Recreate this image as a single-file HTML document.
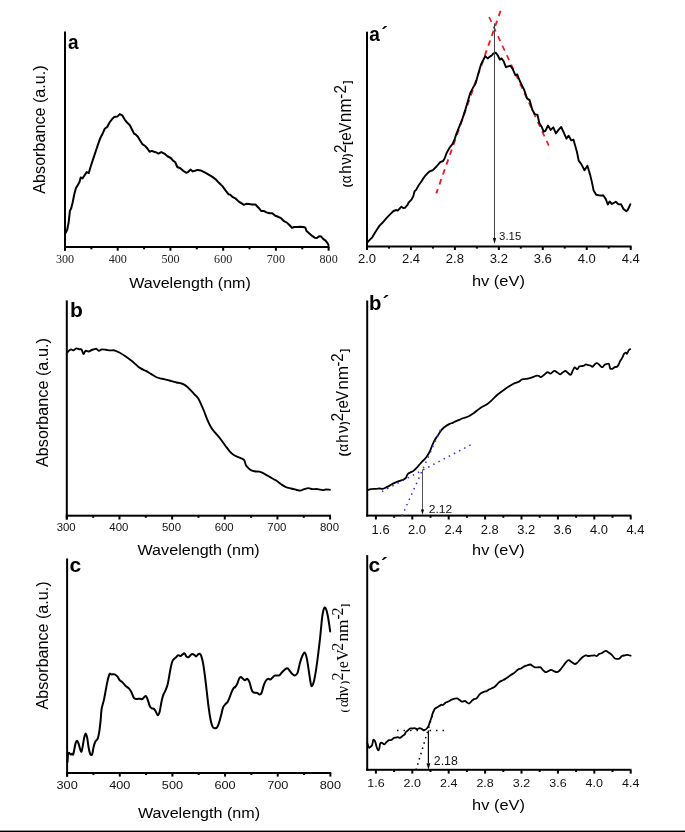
<!DOCTYPE html>
<html><head><meta charset="utf-8"><style>
html,body{margin:0;padding:0;background:#fff;}
body{width:685px;height:832px;overflow:hidden;}
svg{display:block;}
</style></head><body>
<svg width="685" height="832" viewBox="0 0 685 832">
<rect width="685" height="832" fill="#fff"/>
<rect x="64.00" y="31.50" width="2.00" height="219.20" fill="#000"/>
<rect x="64.00" y="246.00" width="265.50" height="2.00" fill="#000"/>
<rect x="64.00" y="247.00" width="2.00" height="3.70" fill="#000"/>
<rect x="116.72" y="247.00" width="2.00" height="3.70" fill="#000"/>
<rect x="169.44" y="247.00" width="2.00" height="3.70" fill="#000"/>
<rect x="222.16" y="247.00" width="2.00" height="3.70" fill="#000"/>
<rect x="274.88" y="247.00" width="2.00" height="3.70" fill="#000"/>
<rect x="327.60" y="247.00" width="2.00" height="3.70" fill="#000"/>
<rect x="90.36" y="247.00" width="2.00" height="2.30" fill="#000"/>
<rect x="143.08" y="247.00" width="2.00" height="2.30" fill="#000"/>
<rect x="195.80" y="247.00" width="2.00" height="2.30" fill="#000"/>
<rect x="248.52" y="247.00" width="2.00" height="2.30" fill="#000"/>
<rect x="301.24" y="247.00" width="2.00" height="2.30" fill="#000"/>
<polyline points="65.4,233.4 67.2,229.8 68.6,222.6 69.9,210.9 71.2,208.2 72.6,202.8 74.4,193.7 75.9,188.3 78.0,184.7 79.5,182.0 80.7,177.5 82.5,178.4 84.3,175.7 86.7,172.1 88.8,173.0 90.6,166.7 92.1,162.2 94.2,155.9 96.0,150.5 97.8,145.1 100.0,138.8 102.3,134.3 104.7,128.8 107.2,127.0 109.5,122.5 112.3,118.9 114.0,117.1 117.3,116.6 119.8,114.1 122.2,115.3 124.9,119.8 127.6,123.1 129.9,125.2 132.1,129.7 134.2,133.9 135.0,133.9 137.9,136.8 140.1,140.4 142.3,144.1 145.2,146.0 147.4,148.5 149.6,151.8 151.8,150.9 154.0,151.8 156.2,152.4 158.4,153.6 161.3,152.1 164.9,153.9 167.8,156.5 170.8,158.0 173.0,160.6 175.1,162.0 177.3,167.0 180.3,168.2 183.2,170.8 186.1,172.8 188.3,171.8 190.5,169.6 192.7,171.4 194.9,170.8 197.8,169.9 200.7,170.4 203.6,171.8 206.5,173.3 209.5,175.2 212.4,176.9 216.0,179.6 218.9,182.8 222.6,186.4 225.5,190.4 228.4,194.2 230.0,194.6 232.9,197.2 235.8,198.7 238.8,201.6 241.7,203.4 243.9,204.8 246.1,203.8 249.0,204.1 251.9,204.5 255.5,204.5 258.5,207.7 261.4,211.1 263.6,210.9 266.5,212.4 269.4,213.3 272.3,213.3 275.3,215.8 278.2,216.8 281.1,218.2 284.0,221.2 286.9,222.6 289.9,225.5 292.0,227.9 294.2,227.0 297.2,227.0 300.1,226.7 303.0,227.0 305.2,227.4 306.6,231.1 309.6,233.7 312.5,236.2 314.7,237.7 316.9,238.1 319.1,236.2 321.2,236.6 323.4,239.1 325.6,240.6 327.5,243.1 328.5,245.0" fill="none" stroke="#000" stroke-width="2.0" stroke-linejoin="round" stroke-linecap="round" />
<rect x="65.80" y="300.40" width="2.00" height="219.10" fill="#000"/>
<rect x="65.80" y="514.70" width="265.20" height="2.00" fill="#000"/>
<rect x="65.80" y="515.70" width="2.00" height="3.80" fill="#000"/>
<rect x="118.46" y="515.70" width="2.00" height="3.80" fill="#000"/>
<rect x="171.12" y="515.70" width="2.00" height="3.80" fill="#000"/>
<rect x="223.78" y="515.70" width="2.00" height="3.80" fill="#000"/>
<rect x="276.44" y="515.70" width="2.00" height="3.80" fill="#000"/>
<rect x="329.10" y="515.70" width="2.00" height="3.80" fill="#000"/>
<rect x="92.13" y="515.70" width="2.00" height="2.10" fill="#000"/>
<rect x="144.79" y="515.70" width="2.00" height="2.10" fill="#000"/>
<rect x="197.45" y="515.70" width="2.00" height="2.10" fill="#000"/>
<rect x="250.11" y="515.70" width="2.00" height="2.10" fill="#000"/>
<rect x="302.77" y="515.70" width="2.00" height="2.10" fill="#000"/>
<path d="M67.20,352.50 C67.53,352.15 68.53,350.92 69.20,350.40 C69.87,349.88 70.52,349.40 71.20,349.40 C71.88,349.40 72.43,350.57 73.30,350.40 C74.17,350.23 75.38,348.57 76.40,348.40 C77.42,348.23 78.55,349.23 79.40,349.40 C80.25,349.57 80.82,348.62 81.50,349.40 C82.18,350.18 82.83,353.87 83.50,354.10 C84.17,354.33 84.65,351.23 85.50,350.80 C86.35,350.37 87.57,351.63 88.60,351.50 C89.63,351.37 90.85,350.35 91.70,350.00 C92.55,349.65 92.92,349.60 93.70,349.40 C94.48,349.20 95.55,348.57 96.40,348.80 C97.25,349.03 97.88,350.70 98.80,350.80 C99.72,350.90 100.70,349.57 101.90,349.40 C103.10,349.23 104.63,349.63 106.00,349.80 C107.37,349.97 108.73,350.30 110.10,350.40 C111.47,350.50 112.67,350.05 114.20,350.40 C115.73,350.75 117.43,351.53 119.30,352.50 C121.17,353.47 123.37,354.83 125.40,356.20 C127.43,357.57 129.63,359.20 131.50,360.70 C133.37,362.20 135.07,363.92 136.60,365.20 C138.13,366.48 139.17,367.45 140.70,368.40 C142.23,369.35 144.10,369.98 145.80,370.90 C147.50,371.82 149.18,372.88 150.90,373.90 C152.62,374.92 154.57,376.25 156.10,377.00 C157.63,377.75 158.75,378.05 160.10,378.40 C161.45,378.75 162.67,378.75 164.20,379.10 C165.73,379.45 167.77,380.07 169.30,380.50 C170.83,380.93 172.20,381.37 173.40,381.70 C174.60,382.03 175.13,382.20 176.50,382.50 C177.87,382.80 180.07,382.98 181.60,383.50 C183.13,384.02 184.33,384.63 185.70,385.60 C187.07,386.57 188.43,387.93 189.80,389.30 C191.17,390.67 192.52,392.32 193.90,393.80 C195.28,395.28 196.90,396.45 198.10,398.20 C199.30,399.95 200.08,402.08 201.10,404.30 C202.12,406.52 203.17,408.95 204.20,411.50 C205.23,414.05 206.12,416.88 207.30,419.60 C208.48,422.32 209.95,425.58 211.30,427.80 C212.65,430.02 213.87,431.03 215.40,432.90 C216.93,434.77 218.78,436.78 220.50,439.00 C222.22,441.22 224.17,444.15 225.70,446.20 C227.23,448.25 228.35,449.83 229.70,451.30 C231.05,452.77 232.27,453.98 233.80,455.00 C235.33,456.02 237.20,456.58 238.90,457.40 C240.60,458.22 242.80,458.53 244.00,459.90 C245.20,461.27 245.07,463.97 246.10,465.60 C247.13,467.23 248.83,468.75 250.20,469.70 C251.57,470.65 252.77,470.97 254.30,471.30 C255.83,471.63 257.70,471.28 259.40,471.70 C261.10,472.12 262.80,472.93 264.50,473.80 C266.20,474.67 267.73,475.82 269.60,476.90 C271.47,477.98 273.83,479.12 275.70,480.30 C277.57,481.48 279.10,482.87 280.80,484.00 C282.50,485.13 284.18,486.35 285.90,487.10 C287.62,487.85 289.38,488.07 291.10,488.50 C292.82,488.93 294.67,489.35 296.20,489.70 C297.73,490.05 298.95,490.70 300.30,490.60 C301.65,490.50 302.95,489.52 304.30,489.10 C305.65,488.68 307.03,488.10 308.40,488.10 C309.77,488.10 310.97,488.93 312.50,489.10 C314.03,489.27 315.90,488.93 317.60,489.10 C319.30,489.27 321.33,490.03 322.70,490.10 C324.07,490.17 324.60,489.57 325.80,489.50 C327.00,489.43 329.22,489.67 329.90,489.70" fill="none" stroke="#000" stroke-width="1.9" stroke-linejoin="round" stroke-linecap="round"/>
<rect x="66.10" y="558.50" width="2.00" height="218.10" fill="#000"/>
<rect x="66.10" y="772.00" width="265.10" height="2.00" fill="#000"/>
<rect x="66.10" y="773.00" width="2.00" height="3.60" fill="#000"/>
<rect x="118.76" y="773.00" width="2.00" height="3.60" fill="#000"/>
<rect x="171.42" y="773.00" width="2.00" height="3.60" fill="#000"/>
<rect x="224.08" y="773.00" width="2.00" height="3.60" fill="#000"/>
<rect x="276.74" y="773.00" width="2.00" height="3.60" fill="#000"/>
<rect x="329.40" y="773.00" width="2.00" height="3.60" fill="#000"/>
<rect x="92.43" y="773.00" width="2.00" height="2.00" fill="#000"/>
<rect x="145.09" y="773.00" width="2.00" height="2.00" fill="#000"/>
<rect x="197.75" y="773.00" width="2.00" height="2.00" fill="#000"/>
<rect x="250.41" y="773.00" width="2.00" height="2.00" fill="#000"/>
<rect x="303.07" y="773.00" width="2.00" height="2.00" fill="#000"/>
<path d="M67.50,762.00 C67.60,760.63 67.82,755.30 68.10,753.80 C68.38,752.30 68.78,752.88 69.20,753.00 C69.62,753.12 70.12,754.37 70.60,754.50 C71.08,754.63 71.67,753.80 72.10,753.80 C72.53,753.80 72.83,755.23 73.20,754.50 C73.57,753.77 73.88,751.33 74.30,749.40 C74.72,747.47 75.23,744.33 75.70,742.90 C76.17,741.47 76.62,740.67 77.10,740.80 C77.58,740.93 78.12,742.38 78.60,743.70 C79.08,745.02 79.52,747.38 80.00,748.70 C80.48,750.02 81.02,752.20 81.50,751.60 C81.98,751.00 82.43,747.50 82.90,745.10 C83.37,742.70 83.82,739.12 84.30,737.20 C84.78,735.28 85.32,733.48 85.80,733.60 C86.28,733.72 86.72,735.50 87.20,737.90 C87.68,740.30 88.15,745.23 88.70,748.00 C89.25,750.77 89.90,753.53 90.50,754.50 C91.10,755.47 91.77,755.13 92.30,753.80 C92.83,752.47 93.18,748.55 93.70,746.50 C94.22,744.45 94.73,742.82 95.40,741.50 C96.07,740.18 97.07,740.17 97.70,738.60 C98.33,737.03 98.72,735.10 99.20,732.10 C99.68,729.10 100.20,724.45 100.60,720.60 C101.00,716.75 101.07,712.37 101.60,709.00 C102.13,705.63 103.20,703.03 103.80,700.40 C104.40,697.77 104.60,696.33 105.20,693.20 C105.80,690.07 106.67,684.78 107.40,681.60 C108.13,678.42 108.88,675.30 109.60,674.10 C110.32,672.90 110.87,674.35 111.70,674.40 C112.53,674.45 113.63,674.03 114.60,674.40 C115.57,674.77 116.65,675.63 117.50,676.60 C118.35,677.57 118.87,679.23 119.70,680.20 C120.53,681.17 121.55,681.48 122.50,682.40 C123.45,683.32 124.38,684.75 125.40,685.70 C126.42,686.65 127.63,687.10 128.60,688.10 C129.57,689.10 130.28,690.02 131.20,691.70 C132.12,693.38 133.13,697.00 134.10,698.20 C135.07,699.40 136.02,698.82 137.00,698.90 C137.98,698.98 139.13,698.67 140.00,698.70 C140.87,698.73 141.52,699.35 142.20,699.10 C142.88,698.85 143.45,697.68 144.10,697.20 C144.75,696.72 145.45,695.63 146.10,696.20 C146.75,696.77 147.37,698.90 148.00,700.60 C148.63,702.30 149.28,705.12 149.90,706.40 C150.52,707.68 151.03,707.88 151.70,708.30 C152.37,708.72 153.22,708.37 153.90,708.90 C154.58,709.43 155.15,710.45 155.80,711.50 C156.45,712.55 157.15,715.20 157.80,715.20 C158.45,715.20 159.07,713.82 159.70,711.50 C160.33,709.18 160.98,704.10 161.60,701.30 C162.22,698.50 162.75,696.52 163.40,694.70 C164.05,692.88 164.83,691.97 165.50,690.40 C166.17,688.83 166.83,687.37 167.40,685.30 C167.97,683.23 168.35,680.93 168.90,678.00 C169.45,675.07 170.05,670.63 170.70,667.70 C171.35,664.77 171.95,662.10 172.80,660.40 C173.65,658.70 174.90,658.35 175.80,657.50 C176.70,656.65 177.40,655.53 178.20,655.30 C179.00,655.07 179.92,656.22 180.60,656.10 C181.28,655.98 181.65,655.05 182.30,654.60 C182.95,654.15 183.82,653.10 184.50,653.40 C185.18,653.70 185.73,655.77 186.40,656.40 C187.07,657.03 187.83,657.38 188.50,657.20 C189.17,657.02 189.77,655.85 190.40,655.30 C191.03,654.75 191.65,653.97 192.30,653.90 C192.95,653.83 193.65,654.48 194.30,654.90 C194.95,655.32 195.57,656.50 196.20,656.40 C196.83,656.30 197.48,654.72 198.10,654.30 C198.72,653.88 199.37,653.60 199.90,653.90 C200.43,654.20 200.77,654.52 201.30,656.10 C201.83,657.68 202.48,660.00 203.10,663.40 C203.72,666.80 204.37,671.63 205.00,676.50 C205.63,681.37 206.30,687.48 206.90,692.60 C207.50,697.72 208.02,702.83 208.60,707.20 C209.18,711.57 209.78,715.65 210.40,718.80 C211.02,721.95 211.58,724.52 212.30,726.10 C213.02,727.68 213.85,728.17 214.70,728.30 C215.55,728.43 216.58,728.12 217.40,726.90 C218.22,725.68 218.92,723.20 219.60,721.00 C220.28,718.80 220.90,716.00 221.50,713.70 C222.10,711.40 222.55,708.78 223.20,707.20 C223.85,705.62 224.67,705.07 225.40,704.20 C226.13,703.33 226.87,703.22 227.60,702.00 C228.33,700.78 229.07,698.72 229.80,696.90 C230.53,695.08 231.27,692.68 232.00,691.10 C232.73,689.52 233.70,688.03 234.20,687.40 C234.70,686.77 234.50,687.88 235.00,687.30 C235.50,686.72 236.52,685.32 237.20,683.90 C237.88,682.48 238.50,679.93 239.10,678.80 C239.70,677.67 240.15,677.10 240.80,677.10 C241.45,677.10 242.32,678.27 243.00,678.80 C243.68,679.33 244.17,680.30 244.90,680.30 C245.63,680.30 246.62,678.43 247.40,678.80 C248.18,679.17 248.93,680.78 249.60,682.50 C250.27,684.22 250.80,687.47 251.40,689.10 C252.00,690.73 252.53,691.70 253.20,692.30 C253.87,692.90 254.67,692.57 255.40,692.70 C256.13,692.83 256.92,692.78 257.60,693.10 C258.28,693.42 258.83,694.67 259.50,694.60 C260.17,694.53 260.93,694.12 261.60,692.70 C262.27,691.28 262.82,688.05 263.50,686.10 C264.18,684.15 264.90,682.22 265.70,681.00 C266.50,679.78 267.53,679.03 268.30,678.80 C269.07,678.57 269.57,679.83 270.30,679.60 C271.03,679.37 271.97,678.07 272.70,677.40 C273.43,676.73 273.93,675.90 274.70,675.60 C275.47,675.30 276.50,675.67 277.30,675.60 C278.10,675.53 278.72,675.75 279.50,675.20 C280.28,674.65 281.15,673.20 282.00,672.30 C282.85,671.40 283.72,670.47 284.60,669.80 C285.48,669.13 286.45,668.13 287.30,668.30 C288.15,668.47 288.88,669.85 289.70,670.80 C290.52,671.75 291.33,673.22 292.20,674.00 C293.07,674.78 294.02,675.67 294.90,675.50 C295.78,675.33 296.65,675.12 297.50,673.00 C298.35,670.88 299.22,665.60 300.00,662.80 C300.78,660.00 301.40,657.90 302.20,656.20 C303.00,654.50 304.03,652.23 304.80,652.60 C305.57,652.97 306.15,655.48 306.80,658.40 C307.45,661.32 308.13,666.45 308.70,670.10 C309.27,673.75 309.72,677.63 310.20,680.30 C310.68,682.97 311.00,685.85 311.60,686.10 C312.20,686.35 313.07,684.47 313.80,681.80 C314.53,679.13 315.27,674.73 316.00,670.10 C316.73,665.47 317.47,659.85 318.20,654.00 C318.93,648.15 319.72,641.32 320.40,635.00 C321.08,628.68 321.65,620.60 322.30,616.10 C322.95,611.60 323.65,609.10 324.30,608.00 C324.95,606.90 325.57,607.92 326.20,609.50 C326.83,611.08 327.43,613.85 328.10,617.50 C328.77,621.15 329.85,629.08 330.20,631.40" fill="none" stroke="#000" stroke-width="2.0" stroke-linejoin="round" stroke-linecap="round"/>
<rect x="366.00" y="31.70" width="2.00" height="218.30" fill="#000"/>
<rect x="366.00" y="245.50" width="265.60" height="2.00" fill="#000"/>
<rect x="366.00" y="246.50" width="2.00" height="3.50" fill="#000"/>
<rect x="409.95" y="246.50" width="2.00" height="3.50" fill="#000"/>
<rect x="453.90" y="246.50" width="2.00" height="3.50" fill="#000"/>
<rect x="497.85" y="246.50" width="2.00" height="3.50" fill="#000"/>
<rect x="541.80" y="246.50" width="2.00" height="3.50" fill="#000"/>
<rect x="585.75" y="246.50" width="2.00" height="3.50" fill="#000"/>
<rect x="629.70" y="246.50" width="2.00" height="3.50" fill="#000"/>
<rect x="387.98" y="246.50" width="2.00" height="2.10" fill="#000"/>
<rect x="431.93" y="246.50" width="2.00" height="2.10" fill="#000"/>
<rect x="475.88" y="246.50" width="2.00" height="2.10" fill="#000"/>
<rect x="519.83" y="246.50" width="2.00" height="2.10" fill="#000"/>
<rect x="563.77" y="246.50" width="2.00" height="2.10" fill="#000"/>
<rect x="607.73" y="246.50" width="2.00" height="2.10" fill="#000"/>
<line x1="500.6" y1="10.8" x2="436.3" y2="193.4" stroke="#e61e26" stroke-width="1.9" stroke-dasharray="5.6,4.9"/>
<line x1="489.1" y1="17.0" x2="548.8" y2="145.6" stroke="#e61e26" stroke-width="1.7" stroke-dasharray="5.5,5.0"/>
<polyline points="367.2,242.7 369.4,240.2 372.3,237.3 375.2,232.2 379.6,225.6 383.2,222.0 386.2,218.3 389.8,214.7 393.5,211.0 396.4,210.0 397.8,210.6 400.0,208.1 401.5,206.6 403.2,208.1 405.1,207.7 407.3,205.2 408.8,202.3 411.7,199.3 413.2,196.4 414.6,191.3 416.1,189.9 419.0,184.7 421.2,181.8 423.4,178.2 425.6,175.3 429.2,171.6 432.9,170.1 436.5,166.5 440.2,162.1 443.1,161.0 444.6,158.5 446.8,152.6 449.7,147.5 452.6,143.9 454.8,138.8 456.2,134.4 457.7,130.7 462.1,119.7 465.0,110.9 468.0,100.7 470.1,93.4 473.1,87.6 475.3,83.9 476.7,79.6 478.9,71.5 481.1,64.2 483.3,59.9 485.2,56.2 487.7,58.4 489.9,56.6 492.0,55.2 493.1,53.7 495.7,52.6 497.9,55.5 499.8,59.6 501.5,58.4 503.7,61.3 505.9,67.2 508.1,66.4 510.3,65.7 512.5,68.6 515.4,75.2 517.3,74.5 519.8,81.0 522.7,86.9 524.4,90.5 527.0,98.4 529.6,100.1 532.3,109.8 534.9,114.2 537.5,115.0 539.3,122.9 541.9,127.3 543.7,131.7 545.4,130.8 548.0,125.5 550.7,129.9 553.3,127.3 555.9,133.4 558.5,129.9 561.2,127.0 563.8,132.6 566.4,138.7 568.7,135.7 571.2,140.4 573.4,139.6 575.2,145.7 576.9,151.8 578.7,160.6 581.3,164.1 584.5,170.2 587.4,165.8 590.1,174.6 591.8,181.6 593.6,190.4 596.2,194.8 598.8,195.3 600.9,195.6 603.2,195.3 605.8,199.1 607.8,204.5 609.6,201.5 612.0,204.0 615.8,201.8 618.5,204.4 621.0,204.2 623.5,209.0 626.3,211.3 628.0,209.5 630.3,204.3" fill="none" stroke="#000" stroke-width="1.9" stroke-linejoin="round" stroke-linecap="round" />
<line x1="494.5" y1="23.4" x2="494.5" y2="240" stroke="#444" stroke-width="1"/>
<polygon points="492.9,238 496.1,238 494.5,244" fill="#000"/>
<rect x="366.20" y="300.50" width="2.00" height="216.10" fill="#000"/>
<rect x="366.20" y="514.60" width="265.20" height="2.00" fill="#000"/>
<rect x="374.90" y="515.60" width="2.00" height="3.90" fill="#000"/>
<rect x="411.30" y="515.60" width="2.00" height="3.90" fill="#000"/>
<rect x="447.70" y="515.60" width="2.00" height="3.90" fill="#000"/>
<rect x="484.10" y="515.60" width="2.00" height="3.90" fill="#000"/>
<rect x="520.50" y="515.60" width="2.00" height="3.90" fill="#000"/>
<rect x="556.90" y="515.60" width="2.00" height="3.90" fill="#000"/>
<rect x="593.30" y="515.60" width="2.00" height="3.90" fill="#000"/>
<rect x="629.70" y="515.60" width="2.00" height="3.90" fill="#000"/>
<rect x="393.10" y="515.60" width="2.00" height="2.20" fill="#000"/>
<rect x="429.50" y="515.60" width="2.00" height="2.20" fill="#000"/>
<rect x="465.90" y="515.60" width="2.00" height="2.20" fill="#000"/>
<rect x="502.30" y="515.60" width="2.00" height="2.20" fill="#000"/>
<rect x="538.70" y="515.60" width="2.00" height="2.20" fill="#000"/>
<rect x="575.10" y="515.60" width="2.00" height="2.20" fill="#000"/>
<rect x="611.50" y="515.60" width="2.00" height="2.20" fill="#000"/>
<path d="M367.90,490.00 C368.38,489.85 369.82,489.30 370.80,489.10 C371.78,488.90 372.82,488.85 373.80,488.80 C374.78,488.75 375.73,488.85 376.70,488.80 C377.67,488.75 378.63,488.50 379.60,488.50 C380.57,488.50 381.40,488.98 382.50,488.80 C383.60,488.62 384.98,487.93 386.20,487.40 C387.42,486.87 388.58,486.27 389.80,485.60 C391.02,484.93 392.28,484.03 393.50,483.40 C394.72,482.77 396.02,482.23 397.10,481.80 C398.18,481.37 398.98,481.13 400.00,480.80 C401.02,480.47 402.22,480.28 403.20,479.80 C404.18,479.32 405.17,478.83 405.90,477.90 C406.63,476.97 406.87,475.10 407.60,474.20 C408.33,473.30 409.37,473.03 410.30,472.50 C411.23,471.97 412.23,471.68 413.20,471.00 C414.17,470.32 415.13,469.37 416.10,468.40 C417.07,467.43 418.03,466.30 419.00,465.20 C419.97,464.10 420.92,462.85 421.90,461.80 C422.88,460.75 423.92,460.03 424.90,458.90 C425.88,457.77 426.88,456.47 427.80,455.00 C428.72,453.53 429.63,451.77 430.40,450.10 C431.17,448.43 431.67,446.70 432.40,445.00 C433.13,443.30 433.98,441.35 434.80,439.90 C435.62,438.45 436.48,437.52 437.30,436.30 C438.12,435.08 438.85,433.82 439.70,432.60 C440.55,431.38 441.35,430.08 442.40,429.00 C443.45,427.92 444.78,426.95 446.00,426.10 C447.22,425.25 448.60,424.45 449.70,423.90 C450.80,423.35 451.63,423.22 452.60,422.80 C453.57,422.38 454.40,421.88 455.50,421.40 C456.60,420.92 458.10,420.38 459.20,419.90 C460.30,419.42 461.13,418.88 462.10,418.50 C463.07,418.12 463.88,417.98 465.00,417.60 C466.12,417.22 467.32,416.97 468.80,416.20 C470.28,415.43 471.97,414.38 473.90,413.00 C475.83,411.62 478.22,409.37 480.40,407.90 C482.58,406.43 485.05,405.53 487.00,404.20 C488.95,402.87 490.27,401.55 492.10,399.90 C493.93,398.25 496.05,395.97 498.00,394.30 C499.95,392.63 501.87,391.28 503.80,389.90 C505.73,388.52 507.78,387.13 509.60,386.00 C511.42,384.87 513.12,383.83 514.70,383.10 C516.28,382.37 518.00,382.17 519.10,381.60 C520.20,381.03 520.45,380.12 521.30,379.70 C522.15,379.28 523.10,379.27 524.20,379.10 C525.30,378.93 526.68,378.93 527.90,378.70 C529.12,378.47 530.17,378.18 531.50,377.70 C532.83,377.22 534.68,376.12 535.90,375.80 C537.12,375.48 537.95,375.57 538.80,375.80 C539.65,376.03 540.15,377.33 541.00,377.20 C541.85,377.07 542.80,375.85 543.90,375.00 C545.00,374.15 546.50,372.33 547.60,372.10 C548.70,371.87 549.40,373.80 550.50,373.60 C551.60,373.40 553.02,371.05 554.20,370.90 C555.38,370.75 556.58,372.12 557.60,372.70 C558.62,373.28 559.42,374.47 560.30,374.40 C561.18,374.33 562.03,372.87 562.90,372.30 C563.77,371.73 564.63,370.87 565.50,371.00 C566.37,371.13 567.22,372.48 568.10,373.10 C568.98,373.72 570.03,375.10 570.80,374.70 C571.57,374.30 572.05,371.92 572.70,370.70 C573.35,369.48 573.93,367.65 574.70,367.40 C575.47,367.15 576.53,369.35 577.30,369.20 C578.07,369.05 578.53,367.02 579.30,366.50 C580.07,365.98 581.13,366.23 581.90,366.10 C582.67,365.97 583.23,365.98 583.90,365.70 C584.57,365.42 585.13,364.48 585.90,364.40 C586.67,364.32 587.73,365.02 588.50,365.20 C589.27,365.38 589.85,365.23 590.50,365.50 C591.15,365.77 591.75,366.92 592.40,366.80 C593.05,366.68 593.73,365.42 594.40,364.80 C595.07,364.18 595.73,363.25 596.40,363.10 C597.07,362.95 597.63,363.33 598.40,363.90 C599.17,364.47 600.30,365.97 601.00,366.50 C601.70,367.03 601.98,367.38 602.60,367.10 C603.22,366.82 603.98,365.33 604.70,364.80 C605.42,364.27 606.20,364.05 606.90,363.90 C607.60,363.75 608.35,363.15 608.90,363.90 C609.45,364.65 609.65,367.58 610.20,368.40 C610.75,369.22 611.43,369.02 612.20,368.80 C612.97,368.58 614.00,367.43 614.80,367.10 C615.60,366.77 616.35,367.25 617.00,366.80 C617.65,366.35 618.20,365.32 618.70,364.40 C619.20,363.48 619.55,362.17 620.00,361.30 C620.45,360.43 620.95,359.93 621.40,359.20 C621.85,358.47 622.27,357.78 622.70,356.90 C623.13,356.02 623.45,354.62 624.00,353.90 C624.55,353.18 625.50,352.63 626.00,352.60 C626.50,352.57 626.57,354.07 627.00,353.70 C627.43,353.33 628.07,351.17 628.60,350.40 C629.13,349.63 629.93,349.32 630.20,349.10" fill="none" stroke="#000" stroke-width="1.8" stroke-linejoin="round" stroke-linecap="round"/>
<line x1="382" y1="491.5" x2="472" y2="444.2" stroke="#3030e0" stroke-width="1.5" stroke-dasharray="1.5,4.3"/>
<line x1="402" y1="515.9" x2="441" y2="428.5" stroke="#3030e0" stroke-width="1.5" stroke-dasharray="1.5,4.3"/>
<line x1="422.5" y1="469.5" x2="422.5" y2="510" stroke="#555" stroke-width="1"/>
<polygon points="421,509.5 424,509.5 422.5,515" fill="#000"/>
<rect x="366.20" y="555.10" width="2.00" height="215.70" fill="#000"/>
<rect x="366.20" y="768.80" width="265.20" height="2.00" fill="#000"/>
<rect x="374.90" y="769.80" width="2.00" height="3.80" fill="#000"/>
<rect x="411.30" y="769.80" width="2.00" height="3.80" fill="#000"/>
<rect x="447.70" y="769.80" width="2.00" height="3.80" fill="#000"/>
<rect x="484.10" y="769.80" width="2.00" height="3.80" fill="#000"/>
<rect x="520.50" y="769.80" width="2.00" height="3.80" fill="#000"/>
<rect x="556.90" y="769.80" width="2.00" height="3.80" fill="#000"/>
<rect x="593.30" y="769.80" width="2.00" height="3.80" fill="#000"/>
<rect x="629.70" y="769.80" width="2.00" height="3.80" fill="#000"/>
<rect x="393.10" y="769.80" width="2.00" height="2.20" fill="#000"/>
<rect x="429.50" y="769.80" width="2.00" height="2.20" fill="#000"/>
<rect x="465.90" y="769.80" width="2.00" height="2.20" fill="#000"/>
<rect x="502.30" y="769.80" width="2.00" height="2.20" fill="#000"/>
<rect x="538.70" y="769.80" width="2.00" height="2.20" fill="#000"/>
<rect x="575.10" y="769.80" width="2.00" height="2.20" fill="#000"/>
<rect x="611.50" y="769.80" width="2.00" height="2.20" fill="#000"/>
<path d="M367.30,743.10 C367.47,743.60 367.95,745.32 368.30,746.10 C368.65,746.88 368.98,747.72 369.40,747.80 C369.82,747.88 370.33,747.08 370.80,746.60 C371.27,746.12 371.80,745.97 372.20,744.90 C372.60,743.83 372.85,741.02 373.20,740.20 C373.55,739.38 373.92,739.60 374.30,740.00 C374.68,740.40 375.10,741.40 375.50,742.60 C375.90,743.80 376.27,745.95 376.70,747.20 C377.13,748.45 377.68,749.80 378.10,750.10 C378.52,750.40 378.85,750.07 379.20,749.00 C379.55,747.93 379.75,744.73 380.20,743.70 C380.65,742.67 381.22,742.70 381.90,742.80 C382.58,742.90 383.52,744.43 384.30,744.30 C385.08,744.17 385.83,742.68 386.60,742.00 C387.37,741.32 388.12,740.53 388.90,740.20 C389.68,739.87 390.52,740.35 391.30,740.00 C392.08,739.65 392.83,738.50 393.60,738.10 C394.37,737.70 395.18,737.77 395.90,737.60 C396.62,737.43 397.22,737.05 397.90,737.10 C398.58,737.15 399.25,738.07 400.00,737.90 C400.75,737.73 401.62,736.68 402.40,736.10 C403.18,735.52 404.12,735.08 404.70,734.40 C405.28,733.72 405.35,732.68 405.90,732.00 C406.45,731.32 407.32,730.88 408.00,730.30 C408.68,729.72 409.28,728.80 410.00,728.50 C410.72,728.20 411.53,728.55 412.30,728.50 C413.07,728.45 413.82,728.10 414.60,728.20 C415.38,728.30 416.27,729.08 417.00,729.10 C417.73,729.12 418.32,728.40 419.00,728.30 C419.68,728.20 420.47,728.23 421.10,728.50 C421.73,728.77 422.18,729.67 422.80,729.90 C423.42,730.13 424.12,730.13 424.80,729.90 C425.48,729.67 426.25,729.22 426.90,728.50 C427.55,727.78 428.22,726.67 428.70,725.60 C429.18,724.53 429.37,723.37 429.80,722.10 C430.23,720.83 430.82,719.45 431.30,718.00 C431.78,716.55 432.17,714.85 432.70,713.40 C433.23,711.95 433.82,710.28 434.50,709.30 C435.18,708.32 436.02,708.03 436.80,707.50 C437.58,706.97 438.42,706.58 439.20,706.10 C439.98,705.62 440.88,704.78 441.50,704.60 C442.12,704.42 442.18,705.35 442.90,705.00 C443.62,704.65 444.82,703.12 445.80,702.50 C446.78,701.88 447.82,701.78 448.80,701.30 C449.78,700.82 450.73,700.03 451.70,699.60 C452.67,699.17 453.68,698.90 454.60,698.70 C455.52,698.50 456.35,698.17 457.20,698.40 C458.05,698.63 458.92,699.57 459.70,700.10 C460.48,700.63 461.05,701.45 461.90,701.60 C462.75,701.75 463.95,700.85 464.80,701.00 C465.65,701.15 466.27,702.08 467.00,702.50 C467.73,702.92 468.47,703.70 469.20,703.50 C469.93,703.30 470.62,702.03 471.40,701.30 C472.18,700.57 473.05,699.58 473.90,699.10 C474.75,698.62 475.70,699.00 476.50,698.40 C477.30,697.80 477.97,696.35 478.70,695.50 C479.43,694.65 480.05,693.92 480.90,693.30 C481.75,692.68 482.83,692.17 483.80,691.80 C484.77,691.43 485.73,691.52 486.70,691.10 C487.67,690.68 488.62,689.83 489.60,689.30 C490.58,688.77 491.75,688.33 492.60,687.90 C493.45,687.47 493.98,687.27 494.70,686.70 C495.42,686.13 496.17,685.23 496.90,684.50 C497.63,683.77 498.25,682.95 499.10,682.30 C499.95,681.65 501.02,681.13 502.00,680.60 C502.98,680.07 504.02,679.67 505.00,679.10 C505.98,678.53 506.93,677.88 507.90,677.20 C508.87,676.52 509.83,675.65 510.80,675.00 C511.77,674.35 512.85,673.90 513.70,673.30 C514.55,672.70 515.17,672.03 515.90,671.40 C516.63,670.77 517.25,669.98 518.10,669.50 C518.95,669.02 520.03,668.98 521.00,668.50 C521.97,668.02 522.92,667.10 523.90,666.60 C524.88,666.10 525.85,665.85 526.90,665.50 C527.95,665.15 529.23,664.42 530.20,664.50 C531.17,664.58 531.92,665.53 532.70,666.00 C533.48,666.47 534.05,667.08 534.90,667.30 C535.75,667.52 536.85,667.28 537.80,667.30 C538.75,667.32 539.73,666.93 540.60,667.40 C541.47,667.87 542.20,669.32 543.00,670.10 C543.80,670.88 544.60,671.88 545.40,672.10 C546.20,672.32 546.85,671.78 547.80,671.40 C548.75,671.02 550.02,669.82 551.10,669.80 C552.18,669.78 553.37,670.92 554.30,671.30 C555.23,671.68 555.90,672.15 556.70,672.10 C557.50,672.05 558.30,671.65 559.10,671.00 C559.90,670.35 560.70,669.20 561.50,668.20 C562.30,667.20 563.10,666.07 563.90,665.00 C564.70,663.93 565.50,662.60 566.30,661.80 C567.10,661.00 567.82,660.15 568.70,660.20 C569.58,660.25 570.58,661.47 571.60,662.10 C572.62,662.73 573.80,663.95 574.80,664.00 C575.80,664.05 576.73,663.12 577.60,662.40 C578.47,661.68 579.20,660.55 580.00,659.70 C580.80,658.85 581.47,658.02 582.40,657.30 C583.33,656.58 584.67,655.62 585.60,655.40 C586.53,655.18 587.07,655.95 588.00,656.00 C588.93,656.05 590.13,655.80 591.20,655.70 C592.27,655.60 593.47,655.35 594.40,655.40 C595.33,655.45 596.05,656.22 596.80,656.00 C597.55,655.78 598.10,654.55 598.90,654.10 C599.70,653.65 600.47,653.83 601.60,653.30 C602.73,652.77 604.53,651.03 605.70,650.90 C606.87,650.77 607.58,651.83 608.60,652.50 C609.62,653.17 610.82,653.97 611.80,654.90 C612.78,655.83 613.65,657.43 614.50,658.10 C615.35,658.77 616.10,658.82 616.90,658.90 C617.70,658.98 618.45,659.08 619.30,658.60 C620.15,658.12 621.07,656.53 622.00,656.00 C622.93,655.47 624.02,655.58 624.90,655.40 C625.78,655.22 626.35,654.85 627.30,654.90 C628.25,654.95 630.05,655.57 630.60,655.70" fill="none" stroke="#000" stroke-width="1.8" stroke-linejoin="round" stroke-linecap="round"/>
<line x1="397" y1="730.5" x2="444" y2="730.5" stroke="#000" stroke-width="1.5" stroke-dasharray="1.5,5"/>
<line x1="416" y1="770" x2="435" y2="707" stroke="#000" stroke-width="1.5" stroke-dasharray="1.5,4"/>
<line x1="428.4" y1="730.5" x2="428.4" y2="763" stroke="#000" stroke-width="1.2"/>
<polygon points="426.5,763.3 430.3,763.3 428.5,769.5" fill="#000"/>
<rect x="0.00" y="830.60" width="685.00" height="1.40" fill="#000"/>
<g style="filter:grayscale(1)">
<text transform="translate(65.00 262.90) scale(1.0 1)" x="0" y="0" style="font-family:'Liberation Serif';font-size:12.1px;font-weight:normal" text-anchor="middle" fill="#222" >300</text>
<text transform="translate(117.72 262.90) scale(1.0 1)" x="0" y="0" style="font-family:'Liberation Serif';font-size:12.1px;font-weight:normal" text-anchor="middle" fill="#222" >400</text>
<text transform="translate(170.44 262.90) scale(1.0 1)" x="0" y="0" style="font-family:'Liberation Serif';font-size:12.1px;font-weight:normal" text-anchor="middle" fill="#222" >500</text>
<text transform="translate(223.16 262.90) scale(1.0 1)" x="0" y="0" style="font-family:'Liberation Serif';font-size:12.1px;font-weight:normal" text-anchor="middle" fill="#222" >600</text>
<text transform="translate(275.88 262.90) scale(1.0 1)" x="0" y="0" style="font-family:'Liberation Serif';font-size:12.1px;font-weight:normal" text-anchor="middle" fill="#222" >700</text>
<text transform="translate(328.60 262.90) scale(1.0 1)" x="0" y="0" style="font-family:'Liberation Serif';font-size:12.1px;font-weight:normal" text-anchor="middle" fill="#222" >800</text>
<text transform="translate(129.20 288.00) scale(1.088 1)" x="0" y="0" style="font-family:'Liberation Sans';font-size:14.8px;font-weight:normal" text-anchor="start" fill="#000" textLength="111.76" lengthAdjust="spacingAndGlyphs" >Wavelength (nm)</text>
<text transform="translate(44.80 193.70) scale(1.088 1) rotate(-90)" x="0" y="0" style="font-family:'Liberation Sans';font-size:16px;font-weight:normal" text-anchor="start" fill="#000" textLength="128.40" lengthAdjust="spacingAndGlyphs" >Absorbance (a.u.)</text>
<text transform="translate(68.00 48.90) scale(1 1)" x="0" y="0" style="font-family:'Liberation Sans';font-size:21px;font-weight:bold" text-anchor="start" fill="#000" textLength="10.60" lengthAdjust="spacingAndGlyphs" >a</text>
<text transform="translate(66.20 531.10) scale(1.088 1)" x="0" y="0" style="font-family:'Liberation Sans';font-size:10.5px;font-weight:normal" text-anchor="middle" fill="#111" >300</text>
<text transform="translate(118.86 531.10) scale(1.088 1)" x="0" y="0" style="font-family:'Liberation Sans';font-size:10.5px;font-weight:normal" text-anchor="middle" fill="#111" >400</text>
<text transform="translate(171.52 531.10) scale(1.088 1)" x="0" y="0" style="font-family:'Liberation Sans';font-size:10.5px;font-weight:normal" text-anchor="middle" fill="#111" >500</text>
<text transform="translate(224.18 531.10) scale(1.088 1)" x="0" y="0" style="font-family:'Liberation Sans';font-size:10.5px;font-weight:normal" text-anchor="middle" fill="#111" >600</text>
<text transform="translate(276.84 531.10) scale(1.088 1)" x="0" y="0" style="font-family:'Liberation Sans';font-size:10.5px;font-weight:normal" text-anchor="middle" fill="#111" >700</text>
<text transform="translate(329.50 531.10) scale(1.088 1)" x="0" y="0" style="font-family:'Liberation Sans';font-size:10.5px;font-weight:normal" text-anchor="middle" fill="#111" >800</text>
<text transform="translate(137.50 554.50) scale(1.088 1)" x="0" y="0" style="font-family:'Liberation Sans';font-size:14.8px;font-weight:normal" text-anchor="start" fill="#000" textLength="112.32" lengthAdjust="spacingAndGlyphs" >Wavelength (nm)</text>
<text transform="translate(48.20 467.00) scale(1.088 1) rotate(-90)" x="0" y="0" style="font-family:'Liberation Sans';font-size:16px;font-weight:normal" text-anchor="start" fill="#000" textLength="128.80" lengthAdjust="spacingAndGlyphs" >Absorbance (a.u.)</text>
<text transform="translate(70.00 317.10) scale(1 1)" x="0" y="0" style="font-family:'Liberation Sans';font-size:21px;font-weight:bold" text-anchor="start" fill="#000" >b</text>
<text transform="translate(67.10 789.40) scale(1.088 1)" x="0" y="0" style="font-family:'Liberation Sans';font-size:11.7px;font-weight:normal" text-anchor="middle" fill="#111" >300</text>
<text transform="translate(119.76 789.40) scale(1.088 1)" x="0" y="0" style="font-family:'Liberation Sans';font-size:11.7px;font-weight:normal" text-anchor="middle" fill="#111" >400</text>
<text transform="translate(172.42 789.40) scale(1.088 1)" x="0" y="0" style="font-family:'Liberation Sans';font-size:11.7px;font-weight:normal" text-anchor="middle" fill="#111" >500</text>
<text transform="translate(225.08 789.40) scale(1.088 1)" x="0" y="0" style="font-family:'Liberation Sans';font-size:11.7px;font-weight:normal" text-anchor="middle" fill="#111" >600</text>
<text transform="translate(277.74 789.40) scale(1.088 1)" x="0" y="0" style="font-family:'Liberation Sans';font-size:11.7px;font-weight:normal" text-anchor="middle" fill="#111" >700</text>
<text transform="translate(330.40 789.40) scale(1.088 1)" x="0" y="0" style="font-family:'Liberation Sans';font-size:11.7px;font-weight:normal" text-anchor="middle" fill="#111" >800</text>
<text transform="translate(138.00 818.00) scale(1.088 1)" x="0" y="0" style="font-family:'Liberation Sans';font-size:14.8px;font-weight:normal" text-anchor="start" fill="#000" textLength="112.22" lengthAdjust="spacingAndGlyphs" >Wavelength (nm)</text>
<text transform="translate(48.00 709.40) scale(1.088 1) rotate(-90)" x="0" y="0" style="font-family:'Liberation Sans';font-size:16px;font-weight:normal" text-anchor="start" fill="#000" textLength="127.90" lengthAdjust="spacingAndGlyphs" >Absorbance (a.u.)</text>
<text transform="translate(69.60 571.60) scale(1 1)" x="0" y="0" style="font-family:'Liberation Sans';font-size:21px;font-weight:bold" text-anchor="start" fill="#000" >c</text>
<text transform="translate(367.00 262.70) scale(1.088 1)" x="0" y="0" style="font-family:'Liberation Sans';font-size:12px;font-weight:normal" text-anchor="middle" fill="#111" >2.0</text>
<text transform="translate(410.95 262.70) scale(1.088 1)" x="0" y="0" style="font-family:'Liberation Sans';font-size:12px;font-weight:normal" text-anchor="middle" fill="#111" >2.4</text>
<text transform="translate(454.90 262.70) scale(1.088 1)" x="0" y="0" style="font-family:'Liberation Sans';font-size:12px;font-weight:normal" text-anchor="middle" fill="#111" >2.8</text>
<text transform="translate(498.85 262.70) scale(1.088 1)" x="0" y="0" style="font-family:'Liberation Sans';font-size:12px;font-weight:normal" text-anchor="middle" fill="#111" >3.2</text>
<text transform="translate(542.80 262.70) scale(1.088 1)" x="0" y="0" style="font-family:'Liberation Sans';font-size:12px;font-weight:normal" text-anchor="middle" fill="#111" >3.6</text>
<text transform="translate(586.75 262.70) scale(1.088 1)" x="0" y="0" style="font-family:'Liberation Sans';font-size:12px;font-weight:normal" text-anchor="middle" fill="#111" >4.0</text>
<text transform="translate(630.70 262.70) scale(1.088 1)" x="0" y="0" style="font-family:'Liberation Sans';font-size:12px;font-weight:normal" text-anchor="middle" fill="#111" >4.4</text>
<text transform="translate(471.90 285.90) scale(1.088 1)" x="0" y="0" style="font-family:'Liberation Sans';font-size:14.8px;font-weight:normal" text-anchor="start" fill="#000" textLength="48.71" lengthAdjust="spacingAndGlyphs" >hv (eV)</text>
<text transform="translate(369.30 40.50) scale(1 1)" x="0" y="0" style="font-family:'Liberation Sans';font-size:21px;font-weight:bold" text-anchor="start" fill="#000" textLength="10.60" lengthAdjust="spacingAndGlyphs" >a</text>
<text transform="translate(381.30 40.70) scale(1 1)" x="0" y="0" style="font-family:'Liberation Sans';font-size:20px;font-weight:bold" text-anchor="start" fill="#000" >&#180;</text>
<text transform="translate(499.10 240.40) scale(1.088 1)" x="0" y="0" style="font-family:'Liberation Sans';font-size:11.5px;font-weight:normal" text-anchor="start" fill="#111" textLength="20.31" lengthAdjust="spacingAndGlyphs" >3.15</text>
<text transform="translate(380.60 533.70) scale(1.088 1)" x="0" y="0" style="font-family:'Liberation Sans';font-size:11.9px;font-weight:normal" text-anchor="middle" fill="#111" >1.6</text>
<text transform="translate(417.00 533.70) scale(1.088 1)" x="0" y="0" style="font-family:'Liberation Sans';font-size:11.9px;font-weight:normal" text-anchor="middle" fill="#111" >2.0</text>
<text transform="translate(453.40 533.70) scale(1.088 1)" x="0" y="0" style="font-family:'Liberation Sans';font-size:11.9px;font-weight:normal" text-anchor="middle" fill="#111" >2.4</text>
<text transform="translate(489.80 533.70) scale(1.088 1)" x="0" y="0" style="font-family:'Liberation Sans';font-size:11.9px;font-weight:normal" text-anchor="middle" fill="#111" >2.8</text>
<text transform="translate(526.20 533.70) scale(1.088 1)" x="0" y="0" style="font-family:'Liberation Sans';font-size:11.9px;font-weight:normal" text-anchor="middle" fill="#111" >3.2</text>
<text transform="translate(562.60 533.70) scale(1.088 1)" x="0" y="0" style="font-family:'Liberation Sans';font-size:11.9px;font-weight:normal" text-anchor="middle" fill="#111" >3.6</text>
<text transform="translate(599.00 533.70) scale(1.088 1)" x="0" y="0" style="font-family:'Liberation Sans';font-size:11.9px;font-weight:normal" text-anchor="middle" fill="#111" >4.0</text>
<text transform="translate(635.40 533.70) scale(1.088 1)" x="0" y="0" style="font-family:'Liberation Sans';font-size:11.9px;font-weight:normal" text-anchor="middle" fill="#111" >4.4</text>
<text transform="translate(472.10 555.10) scale(1.088 1)" x="0" y="0" style="font-family:'Liberation Sans';font-size:14.8px;font-weight:normal" text-anchor="start" fill="#000" textLength="48.35" lengthAdjust="spacingAndGlyphs" >hv (eV)</text>
<text transform="translate(369.00 310.20) scale(1 1)" x="0" y="0" style="font-family:'Liberation Sans';font-size:20.3px;font-weight:bold" text-anchor="start" fill="#000" >b</text>
<text transform="translate(382.60 310.20) scale(1 1)" x="0" y="0" style="font-family:'Liberation Sans';font-size:20px;font-weight:bold" text-anchor="start" fill="#000" >&#180;</text>
<text transform="translate(428.70 513.10) scale(1.088 1)" x="0" y="0" style="font-family:'Liberation Sans';font-size:11.5px;font-weight:normal" text-anchor="start" fill="#111" textLength="21.51" lengthAdjust="spacingAndGlyphs" >2.12</text>
<text transform="translate(375.90 786.70) scale(1.088 1)" x="0" y="0" style="font-family:'Liberation Sans';font-size:11.5px;font-weight:normal" text-anchor="middle" fill="#111" >1.6</text>
<text transform="translate(412.30 786.70) scale(1.088 1)" x="0" y="0" style="font-family:'Liberation Sans';font-size:11.5px;font-weight:normal" text-anchor="middle" fill="#111" >2.0</text>
<text transform="translate(448.70 786.70) scale(1.088 1)" x="0" y="0" style="font-family:'Liberation Sans';font-size:11.5px;font-weight:normal" text-anchor="middle" fill="#111" >2.4</text>
<text transform="translate(485.10 786.70) scale(1.088 1)" x="0" y="0" style="font-family:'Liberation Sans';font-size:11.5px;font-weight:normal" text-anchor="middle" fill="#111" >2.8</text>
<text transform="translate(521.50 786.70) scale(1.088 1)" x="0" y="0" style="font-family:'Liberation Sans';font-size:11.5px;font-weight:normal" text-anchor="middle" fill="#111" >3.2</text>
<text transform="translate(557.90 786.70) scale(1.088 1)" x="0" y="0" style="font-family:'Liberation Sans';font-size:11.5px;font-weight:normal" text-anchor="middle" fill="#111" >3.6</text>
<text transform="translate(594.30 786.70) scale(1.088 1)" x="0" y="0" style="font-family:'Liberation Sans';font-size:11.5px;font-weight:normal" text-anchor="middle" fill="#111" >4.0</text>
<text transform="translate(630.70 786.70) scale(1.088 1)" x="0" y="0" style="font-family:'Liberation Sans';font-size:11.5px;font-weight:normal" text-anchor="middle" fill="#111" >4.4</text>
<text transform="translate(472.10 809.60) scale(1.088 1)" x="0" y="0" style="font-family:'Liberation Sans';font-size:14.8px;font-weight:normal" text-anchor="start" fill="#000" textLength="48.53" lengthAdjust="spacingAndGlyphs" >hv (eV)</text>
<text transform="translate(368.60 572.00) scale(1 1)" x="0" y="0" style="font-family:'Liberation Sans';font-size:21px;font-weight:bold" text-anchor="start" fill="#000" >c</text>
<text transform="translate(380.90 572.00) scale(1 1)" x="0" y="0" style="font-family:'Liberation Sans';font-size:20px;font-weight:bold" text-anchor="start" fill="#000" >&#180;</text>
<text transform="translate(433.80 764.90) scale(1.088 1)" x="0" y="0" style="font-family:'Liberation Sans';font-size:12.5px;font-weight:normal" text-anchor="start" fill="#111" textLength="22.06" lengthAdjust="spacingAndGlyphs" >2.18</text>
<g transform="scale(1.088 1) rotate(-90)">
<text transform="translate(-187.13 322.40) scale(1.000 1)" style="font-family:'Liberation Sans';font-size:10.20px;font-weight:bold">(</text>
<text transform="translate(-183.27 322.40) scale(1.000 1)" style="font-family:'Liberation Sans';font-size:13.50px;font-weight:normal">&#945;</text>
<text transform="translate(-173.65 322.40) scale(1.000 1)" style="font-family:'Liberation Sans';font-size:15.20px;font-weight:normal">h</text>
<text transform="translate(-164.70 322.40) scale(1.000 1)" style="font-family:'Liberation Sans';font-size:15.20px;font-weight:normal">&#957;</text>
<text transform="translate(-157.06 322.40) scale(1.000 1)" style="font-family:'Liberation Sans';font-size:10.20px;font-weight:bold">)</text>
<text transform="translate(-153.06 318.00) scale(1.000 1)" style="font-family:'Liberation Sans';font-size:15.20px;font-weight:normal">2</text>
<text transform="translate(-144.83 322.40) scale(1.000 1)" style="font-family:'Liberation Sans';font-size:10.20px;font-weight:bold">[</text>
<text transform="translate(-140.85 322.40) scale(1.000 1)" style="font-family:'Liberation Sans';font-size:15.20px;font-weight:normal">e</text>
<text transform="translate(-132.77 322.40) scale(1.000 1)" style="font-family:'Liberation Sans';font-size:15.20px;font-weight:normal">V</text>
<text transform="translate(-122.14 322.40) scale(1.056 1)" style="font-family:'Liberation Sans';font-size:16.20px;font-weight:normal">nm</text>
<text transform="translate(-98.78 318.00) scale(1.000 1)" style="font-family:'Liberation Sans';font-size:15.20px;font-weight:normal">-</text>
<text transform="translate(-93.46 318.00) scale(1.000 1)" style="font-family:'Liberation Sans';font-size:15.20px;font-weight:normal">2</text>
<text transform="translate(-84.08 322.40) scale(1.000 1)" style="font-family:'Liberation Sans';font-size:10.20px;font-weight:bold">]</text>
</g>
<g transform="scale(1.088 1) rotate(-90)">
<text transform="translate(-456.58 320.20) scale(1.000 1)" style="font-family:'Liberation Sans';font-size:12.60px;font-weight:bold">(</text>
<text transform="translate(-451.82 320.20) scale(1.000 1)" style="font-family:'Liberation Sans';font-size:13.50px;font-weight:normal">&#945;</text>
<text transform="translate(-442.64 320.20) scale(1.000 1)" style="font-family:'Liberation Sans';font-size:15.00px;font-weight:normal">h</text>
<text transform="translate(-433.00 320.20) scale(1.000 1)" style="font-family:'Liberation Sans';font-size:15.00px;font-weight:normal">&#957;</text>
<text transform="translate(-424.66 320.20) scale(1.000 1)" style="font-family:'Liberation Sans';font-size:10.00px;font-weight:bold">)</text>
<text transform="translate(-421.35 315.60) scale(1.000 1)" style="font-family:'Liberation Sans';font-size:15.00px;font-weight:normal">2</text>
<text transform="translate(-412.61 320.20) scale(1.000 1)" style="font-family:'Liberation Sans';font-size:10.00px;font-weight:bold">[</text>
<text transform="translate(-408.44 320.20) scale(1.000 1)" style="font-family:'Liberation Sans';font-size:15.00px;font-weight:normal">e</text>
<text transform="translate(-400.97 320.20) scale(1.000 1)" style="font-family:'Liberation Sans';font-size:15.00px;font-weight:normal">V</text>
<text transform="translate(-389.74 320.20) scale(1.116 1)" style="font-family:'Liberation Sans';font-size:15.40px;font-weight:normal">nm</text>
<text transform="translate(-366.57 315.60) scale(1.000 1)" style="font-family:'Liberation Sans';font-size:15.00px;font-weight:normal">-</text>
<text transform="translate(-361.65 315.60) scale(1.000 1)" style="font-family:'Liberation Sans';font-size:15.00px;font-weight:normal">2</text>
<text transform="translate(-352.28 320.20) scale(1.000 1)" style="font-family:'Liberation Sans';font-size:10.00px;font-weight:bold">]</text>
</g>
<g transform="scale(1.088 1) rotate(-90)">
<text transform="translate(-712.42 319.80) scale(1.000 1)" style="font-family:'Liberation Serif';font-size:9.60px;font-weight:bold">(</text>
<text transform="translate(-707.03 319.80) scale(1.000 1)" style="font-family:'Liberation Serif';font-size:14.00px;font-weight:normal">&#945;</text>
<text transform="translate(-700.56 319.80) scale(1.000 1)" style="font-family:'Liberation Serif';font-size:16.00px;font-weight:normal">h</text>
<text transform="translate(-693.24 319.80) scale(1.000 1)" style="font-family:'Liberation Serif';font-size:16.00px;font-weight:normal">&#957;</text>
<text transform="translate(-684.11 319.80) scale(1.000 1)" style="font-family:'Liberation Serif';font-size:9.60px;font-weight:bold">)</text>
<text transform="translate(-680.60 315.40) scale(1.000 1)" style="font-family:'Liberation Serif';font-size:16.00px;font-weight:normal">2</text>
<text transform="translate(-671.91 319.80) scale(1.000 1)" style="font-family:'Liberation Serif';font-size:9.60px;font-weight:bold">[</text>
<text transform="translate(-668.23 319.80) scale(1.000 1)" style="font-family:'Liberation Serif';font-size:16.00px;font-weight:normal">e</text>
<text transform="translate(-660.78 319.80) scale(1.000 1)" style="font-family:'Liberation Serif';font-size:16.00px;font-weight:normal">V</text>
<text transform="translate(-650.70 315.40) scale(1.000 1)" style="font-family:'Liberation Serif';font-size:16.00px;font-weight:normal">2</text>
<text transform="translate(-641.60 319.80) scale(1.079 1)" style="font-family:'Liberation Serif';font-size:16.00px;font-weight:normal">nm</text>
<text transform="translate(-619.49 315.40) scale(1.000 1)" style="font-family:'Liberation Serif';font-size:16.00px;font-weight:normal">-</text>
<text transform="translate(-615.40 315.40) scale(1.000 1)" style="font-family:'Liberation Serif';font-size:16.00px;font-weight:normal">2</text>
<text transform="translate(-607.05 319.80) scale(1.000 1)" style="font-family:'Liberation Serif';font-size:9.60px;font-weight:bold">]</text>
</g>
</g>
</svg>
</body></html>
